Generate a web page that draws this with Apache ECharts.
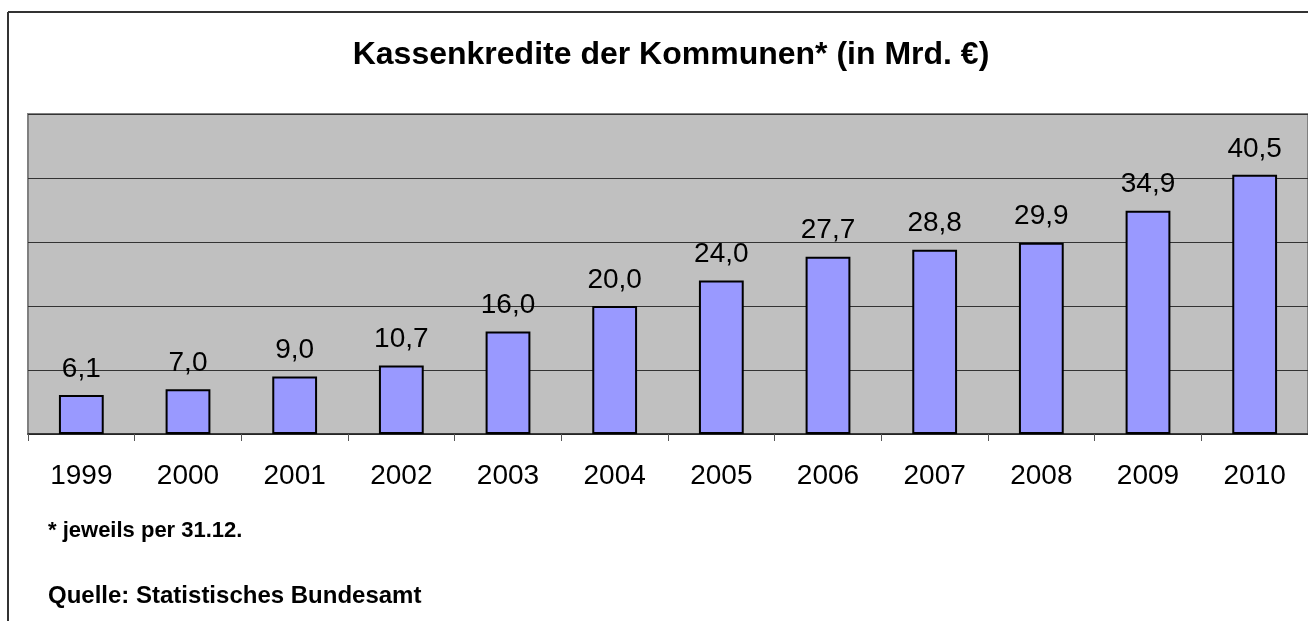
<!DOCTYPE html>
<html>
<head>
<meta charset="utf-8">
<script src="https://cdn.jsdelivr.net/npm/echarts@6/dist/echarts.min.js"></script>
<style>
html,body{margin:0;padding:0;background:#fff;}
#c{width:1308px;height:621px;}
</style>
</head>
<body>
<div id="c"></div>
<script>
var categories = ['1999','2000','2001','2002','2003','2004','2005','2006','2007','2008','2009','2010'];
var values = [6.1, 7.0, 9.0, 10.7, 16.0, 20.0, 24.0, 27.7, 28.8, 29.9, 34.9, 40.5];
var titleText = 'Kassenkredite der Kommunen* (in Mrd. €)';
var footnote = '* jeweils per 31.12.';
var sourceText = 'Quelle: Statistisches Bundesamt';

var chart = echarts.init(document.getElementById('c'), null, {renderer: 'canvas'});
chart.setOption({
  animation: false,
  backgroundColor: '#ffffff',
  grid: {
    left: 28, top: 114, width: 1284, height: 320,
    show: true, backgroundColor: '#C0C0C0', borderColor: '#808080', borderWidth: 2,
    containLabel: false
  },
  xAxis: {
    type: 'category',
    data: categories,
    boundaryGap: true,
    axisLine: {show: true, lineStyle: {color: '#222', width: 1.5}},
    axisTick: {show: true, length: 7, lineStyle: {color: '#555', width: 1}},
    axisLabel: {color: '#000', fontSize: 28, fontFamily: 'Liberation Sans, Arial, sans-serif', margin: 28},
    splitLine: {show: false}
  },
  yAxis: {
    type: 'value',
    min: 0, max: 50, interval: 10,
    axisLine: {show: false},
    axisTick: {show: false},
    axisLabel: {show: false},
    splitLine: {show: true, lineStyle: {color: '#333', width: 1}}
  },
  series: [{
    type: 'bar',
    data: values,
    barWidth: '42%',
    itemStyle: {color: '#9999FF', borderColor: '#000', borderWidth: 2},
    label: {
      show: true, position: 'top', distance: 12,
      color: '#000', fontSize: 28, fontFamily: 'Liberation Sans, Arial, sans-serif',
      formatter: function (p) { return p.value.toFixed(1).replace('.', ','); }
    }
  }],
  graphic: [
    {type: 'line', shape: {x1: 8, y1: 12, x2: 1308, y2: 12}, style: {stroke: '#333', lineWidth: 2}, silent: true},
    {type: 'line', shape: {x1: 8, y1: 12, x2: 8, y2: 621}, style: {stroke: '#333', lineWidth: 2}, silent: true},
    {type: 'text', x: 671, y: 55, style: {text: titleText, fill: '#000', font: 'bold 32px "Liberation Sans", Arial, sans-serif', textAlign: 'center', textVerticalAlign: 'middle'}},
    {type: 'text', x: 48, y: 531, style: {text: footnote, fill: '#000', font: 'bold 22px "Liberation Sans", Arial, sans-serif', textAlign: 'left', textVerticalAlign: 'middle'}},
    {type: 'text', x: 48, y: 596, style: {text: sourceText, fill: '#000', font: 'bold 24px "Liberation Sans", Arial, sans-serif', textAlign: 'left', textVerticalAlign: 'middle'}}
  ]
});
</script>
</body>
</html>
